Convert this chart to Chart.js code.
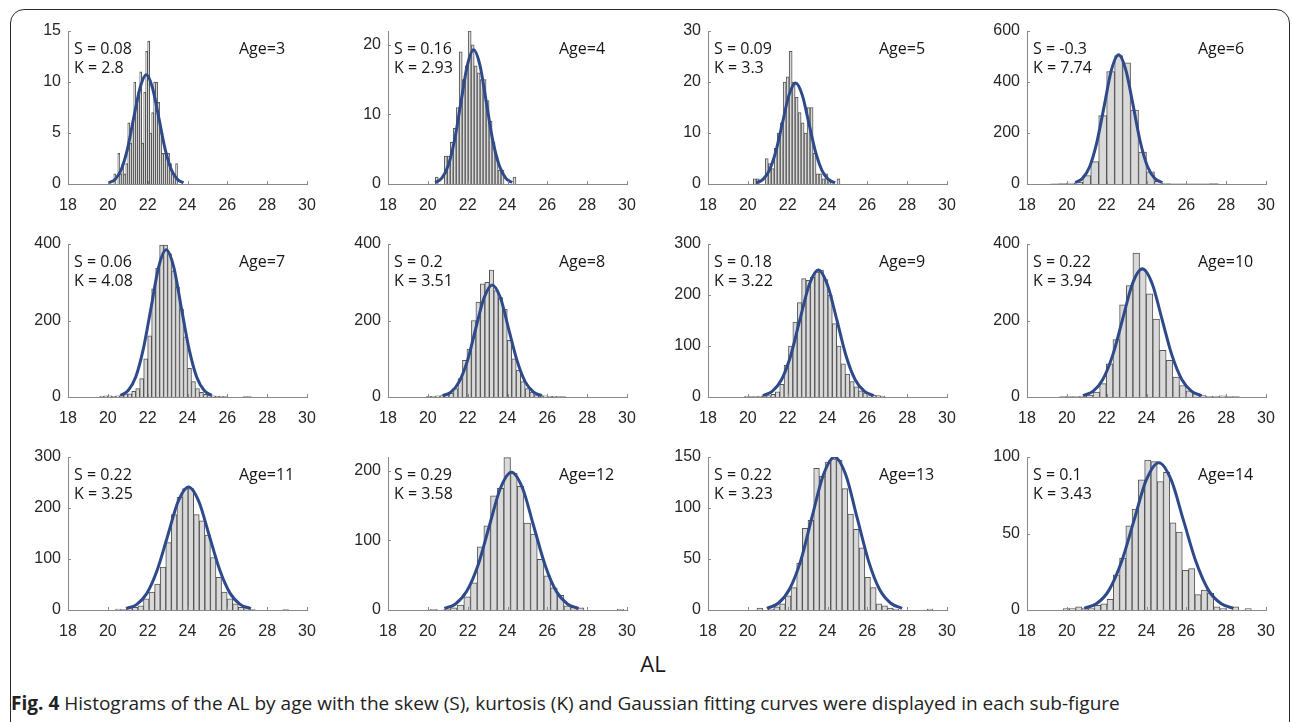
<!DOCTYPE html>
<html>
<head>
<meta charset="utf-8">
<script src="https://cdn.jsdelivr.net/npm/chart.js@4.4.1/dist/chart.umd.min.js"></script>
<style>
  html, body { margin: 0; padding: 0; background: #ffffff; }
  body { width: 1292px; height: 722px; position: relative; overflow: hidden; }
  #frame { position: absolute; left: 10px; top: 9px; width: 1280px; height: 740px;
           border: 1.5px solid #2b2b2b; border-radius: 14px; box-sizing: border-box; }
  canvas { position: absolute; }
  #xlabel { position: absolute; left: 600px; width: 106px; top: 648px; text-align: center;
            font: 22px "Open Sans", sans-serif; color: #1a1a1a; }
  #caption { position: absolute; left: 11px; top: 690px; white-space: nowrap;
             font: 19px "Open Sans", sans-serif; color: #222; letter-spacing: 0.015px; }
  #caption b { font-weight: 700; }
</style>
</head>
<body>
<div id="frame"></div>
<div id="xlabel">AL</div>
<div id="caption"><b>Fig. 4</b> Histograms of the AL by age with the skew (S), kurtosis (K) and Gaussian fitting curves were displayed in each sub-figure</div>
<script>
// ---- labels ----
const ageLabels = ['Age=3', 'Age=4', 'Age=5', 'Age=6', 'Age=7', 'Age=8',
                   'Age=9', 'Age=10', 'Age=11', 'Age=12', 'Age=13', 'Age=14'];
const skewLabels = ['S = 0.08', 'S = 0.16', 'S = 0.09', 'S = -0.3', 'S = 0.06', 'S = 0.2',
                    'S = 0.18', 'S = 0.22', 'S = 0.22', 'S = 0.29', 'S = 0.22', 'S = 0.1'];
const kurtLabels = ['K = 2.8', 'K = 2.93', 'K = 3.3', 'K = 7.74', 'K = 4.08', 'K = 3.51',
                    'K = 3.22', 'K = 3.94', 'K = 3.25', 'K = 3.58', 'K = 3.23', 'K = 3.43'];

// ---- axes ----
const xTicks = [18, 20, 22, 24, 26, 28, 30];
const yMax = [15, 22, 30, 600, 400, 400, 300, 400, 300, 220, 150, 100];
const yTicks = [[0, 5, 10, 15], [0, 10, 20], [0, 10, 20, 30], [0, 200, 400, 600],
                [0, 200, 400], [0, 200, 400], [0, 100, 200, 300], [0, 200, 400],
                [0, 100, 200, 300], [0, 100, 200], [0, 50, 100, 150], [0, 50, 100]];

// ---- histogram bins: centre of first bin and bin width (AL, mm) ----
const binStart = [20.35, 20.45, 20.35, 19.4, 19.7, 20.05, 19.95, 19.81, 20.53, 20.3, 20.6, 19.97];
const binWidth = [0.1, 0.15, 0.15, 0.4, 0.2, 0.225, 0.22, 0.334, 0.28, 0.335, 0.285, 0.315];

// ---- histogram counts per age ----
const age3Counts = [1, 0, 3, 1, 2, 1, 2, 6, 4, 6, 10, 8, 9, 11, 4, 9, 13, 14, 5, 7, 10, 10, 8, 5, 3, 3, 3, 3, 2, 1, 1, 2, 0];
const age4Counts = [1, 0, 0, 4, 4, 6, 8, 11, 19, 15, 17, 22, 20, 17, 16, 15, 15, 12, 9, 6, 4, 2, 2, 0, 0, 0, 1];
const age5Counts = [1, 1, 0, 0, 5, 4, 3, 7, 10, 12, 20, 21, 26, 20, 17, 14, 12, 10, 15, 15, 6, 2, 2, 1, 2, 1, 0, 0, 1];
const age6Counts = [1, 2, 4, 7, 33, 88, 268, 441, 504, 475, 290, 125, 48, 10, 2, 1, 1, 1, 1, 1, 2];
const age7Counts = [2, 3, 3, 2, 3, 5, 8, 8, 15, 22, 48, 100, 160, 283, 337, 397, 397, 374, 330, 287, 230, 157, 75, 40, 22, 12, 7, 5, 3, 2, 2, 1, 0, 0, 0, 0, 1, 1];
const age8Counts = [2, 2, 3, 4, 6, 10, 22, 48, 96, 125, 200, 248, 296, 300, 332, 278, 260, 230, 148, 100, 70, 40, 22, 13, 6, 4, 3, 2, 2, 1, 1];
const age9Counts = [2, 1, 1, 2, 3, 3, 5, 10, 25, 62, 100, 147, 185, 232, 229, 235, 245, 249, 230, 200, 144, 100, 65, 45, 30, 20, 12, 8, 5, 4, 3, 2];
const age10Counts = [1, 1, 1, 2, 5, 13, 35, 87, 150, 241, 291, 376, 333, 270, 204, 122, 96, 52, 30, 16, 9, 4, 2, 1, 3, 1, 1];
const age11Counts = [2, 1, 3, 5, 8, 22, 35, 51, 84, 132, 187, 221, 238, 238, 187, 175, 147, 103, 64, 35, 22, 12, 5, 3, 1, 0, 0, 0, 0, 0, 1];
const age12Counts = [1, 0, 1, 3, 7, 19, 39, 91, 121, 164, 175, 219, 197, 178, 125, 109, 73, 49, 32, 21, 6, 4, 3, 0, 0, 0, 0, 0, 1];
const age13Counts = [2, 0, 1, 3, 6, 14, 22, 46, 80, 88, 139, 131, 145, 148, 147, 119, 94, 79, 61, 32, 22, 6, 4, 2, 1, 0, 0, 0, 0, 0, 1];
const age14Counts = [1, 1, 2, 1, 1, 3, 4, 7, 23, 34, 55, 66, 85, 98, 97, 84, 90, 57, 51, 26, 27, 10, 13, 11, 2, 1, 0, 2, 0, 1];

// ---- fitted Gaussian curves, sampled points (x = AL, y = count) ----
const age3FitX = [20.05, 20.37, 20.68, 20.99, 21.3, 21.62, 21.93, 22.24, 22.56, 22.87, 23.18, 23.49, 23.8];
const age3FitY = [0.12, 0.47, 1.45, 3.47, 6.49, 9.44, 10.7, 9.44, 6.49, 3.47, 1.45, 0.47, 0.12];
const age4FitX = [20.38, 20.7, 21.02, 21.34, 21.66, 21.98, 22.3, 22.62, 22.94, 23.26, 23.59, 23.91, 24.23];
const age4FitY = [0.21, 0.85, 2.61, 6.27, 11.71, 17.03, 19.3, 17.03, 11.71, 6.27, 2.61, 0.85, 0.21];
const age5FitX = [20.42, 20.75, 21.08, 21.41, 21.74, 22.07, 22.4, 22.73, 23.06, 23.39, 23.72, 24.05, 24.38];
const age5FitY = [0.22, 0.87, 2.68, 6.43, 12.01, 17.47, 19.8, 17.47, 12.01, 6.43, 2.68, 0.87, 0.22];
const age6FitX = [20.43, 20.79, 21.15, 21.51, 21.88, 22.24, 22.6, 22.96, 23.33, 23.69, 24.05, 24.41, 24.78];
const age6FitY = [5.6, 22.3, 68.6, 164.6, 307.5, 447.4, 507, 447.4, 307.5, 164.6, 68.6, 22.3, 5.6];
const age7FitX = [20.64, 21.02, 21.4, 21.78, 22.17, 22.55, 22.93, 23.31, 23.69, 24.08, 24.46, 24.84, 25.22];
const age7FitY = [4.3, 16.9, 52.1, 125, 233.5, 339.8, 385, 339.8, 233.5, 125, 52.1, 16.9, 4.3];
const age8FitX = [20.74, 21.16, 21.57, 21.99, 22.4, 22.82, 23.23, 23.65, 24.06, 24.48, 24.89, 25.31, 25.72];
const age8FitY = [3.3, 12.9, 39.6, 95.1, 177.7, 258.6, 293, 258.6, 177.7, 95.1, 39.6, 12.9, 3.3];
const age9FitX = [20.76, 21.22, 21.69, 22.15, 22.61, 23.08, 23.54, 24.0, 24.47, 24.93, 25.39, 25.86, 26.32];
const age9FitY = [2.8, 10.9, 33.7, 80.9, 151, 219.7, 249, 219.7, 151, 80.9, 33.7, 10.9, 2.8];
const age10FitX = [20.81, 21.31, 21.8, 22.3, 22.8, 23.29, 23.79, 24.29, 24.78, 25.28, 25.78, 26.27, 26.77];
const age10FitY = [3.7, 14.7, 45.3, 108.8, 203.2, 295.6, 335, 295.6, 203.2, 108.8, 45.3, 14.7, 3.7];
const age11FitX = [20.92, 21.44, 21.96, 22.48, 23.01, 23.53, 24.05, 24.57, 25.09, 25.62, 26.14, 26.66, 27.18];
const age11FitY = [2.7, 10.6, 32.6, 78.3, 146.2, 212.7, 241, 212.7, 146.2, 78.3, 32.6, 10.6, 2.7];
const age12FitX = [20.83, 21.39, 21.95, 22.52, 23.08, 23.64, 24.2, 24.76, 25.32, 25.89, 26.45, 27.01, 27.57];
const age12FitY = [2.2, 8.7, 26.8, 64.3, 120.1, 174.7, 198, 174.7, 120.1, 64.3, 26.8, 8.7, 2.2];
const age13FitX = [20.96, 21.53, 22.09, 22.66, 23.22, 23.79, 24.35, 24.92, 25.48, 26.05, 26.61, 27.18, 27.74];
const age13FitY = [1.7, 6.6, 20.3, 48.7, 91, 132.4, 150, 132.4, 91, 48.7, 20.3, 6.6, 1.7];
const age14FitX = [20.87, 21.5, 22.12, 22.74, 23.37, 23.99, 24.62, 25.24, 25.86, 26.49, 27.11, 27.74, 28.36];
const age14FitY = [1.1, 4.2, 13, 31.3, 58.4, 85, 96.3, 85, 58.4, 31.3, 13, 4.2, 1.1];

const allCounts = [age3Counts, age4Counts, age5Counts, age6Counts, age7Counts, age8Counts,
                   age9Counts, age10Counts, age11Counts, age12Counts, age13Counts, age14Counts];
const allFitX = [age3FitX, age4FitX, age5FitX, age6FitX, age7FitX, age8FitX,
                 age9FitX, age10FitX, age11FitX, age12FitX, age13FitX, age14FitX];
const allFitY = [age3FitY, age4FitY, age5FitY, age6FitY, age7FitY, age8FitY,
                 age9FitY, age10FitY, age11FitY, age12FitY, age13FitY, age14FitY];

// ---- page layout of the 4 x 3 grid of panels ----
const colLeft = [68, 388, 708, 1027];   // x of each panel's y-axis
const rowTop = [31, 244, 457];          // y of each panel's top
const plotW = 239, plotH = 153;
const padL = 60, padT = 12, padR = 14, padB = 36;

const AXIS_COLOR = '#8a8a8a';
const TICK_FONT = { family: '"Liberation Sans", Arial, sans-serif', size: 16 };
const TEXT_FONT = '16px "Open Sans", sans-serif';

// inward tick marks and the in-panel annotations
const panelDecor = {
  id: 'panelDecor',
  afterDraw(chart, args, opts) {
    const { ctx, chartArea: a, scales } = chart;
    const xs = scales.x, ys = scales.y;
    ctx.save();
    ctx.strokeStyle = AXIS_COLOR;
    ctx.lineWidth = 1;
    ctx.beginPath();
    xs.ticks.forEach(t => {
      const px = Math.round(xs.getPixelForValue(t.value)) + 0.5;
      ctx.moveTo(px, a.bottom);
      ctx.lineTo(px, a.bottom - 3);
    });
    ys.ticks.forEach(t => {
      const py = Math.round(ys.getPixelForValue(t.value)) + 0.5;
      ctx.moveTo(a.left, py);
      ctx.lineTo(a.left + 3, py);
    });
    ctx.stroke();
    ctx.fillStyle = '#161616';
    ctx.font = TEXT_FONT;
    ctx.textAlign = 'left';
    ctx.textBaseline = 'alphabetic';
    ctx.fillText(opts.skew, a.left + 6, a.top + 22.5);
    ctx.fillText(opts.kurt, a.left + 6, a.top + 42);
    ctx.fillText(opts.age, a.left + 171, a.top + 23.2);
    ctx.restore();
  }
};

function makePanel(i) {
  const col = i % 4, row = Math.floor(i / 4);
  const canvas = document.createElement('canvas');
  const w = padL + plotW + padR, h = padT + plotH + padB;
  canvas.width = w; canvas.height = h;
  canvas.style.left = (colLeft[col] - padL) + 'px';
  canvas.style.top = (rowTop[row] - padT) + 'px';
  canvas.style.width = w + 'px';
  canvas.style.height = h + 'px';
  document.body.appendChild(canvas);

  const bars = allCounts[i].map((v, k) => ({ x: binStart[i] + k * binWidth[i], y: v }));
  const fit = allFitX[i].map((x, k) => ({ x: x, y: allFitY[i][k] }));

  new Chart(canvas, {
    type: 'bar',
    data: {
      datasets: [
        {
          type: 'line', data: fit, order: 0,
          borderColor: '#2f4a8a', borderWidth: 3, pointRadius: 0,
          cubicInterpolationMode: 'monotone', fill: false
        },
        {
          type: 'bar', data: bars, order: 1,
          backgroundColor: '#d9d9d9', borderColor: '#555555', borderWidth: 1,
          barPercentage: 1, categoryPercentage: 1
        }
      ]
    },
    options: {
      responsive: false, animation: false, devicePixelRatio: 1,
      layout: { padding: { left: 0, top: padT, right: padR, bottom: 0 } },
      plugins: {
        legend: { display: false }, tooltip: { enabled: false },
        panelDecor: { skew: skewLabels[i], kurt: kurtLabels[i], age: ageLabels[i] }
      },
      scales: {
        x: {
          type: 'linear', min: 18, max: 30, offset: false,
          grid: { display: false, drawTicks: false },
          border: { display: true, color: AXIS_COLOR, width: 1 },
          ticks: { color: '#262626', font: TICK_FONT, padding: 12, maxRotation: 0 },
          afterBuildTicks: s => { s.ticks = xTicks.map(v => ({ value: v })); },
          afterFit: s => { s.height = padB; s.paddingLeft = 0; s.paddingRight = 0; }
        },
        y: {
          type: 'linear', min: 0, max: yMax[i],
          grid: { display: false, drawTicks: false },
          border: { display: true, color: AXIS_COLOR, width: 1 },
          ticks: { color: '#262626', font: TICK_FONT, padding: 7 },
          afterBuildTicks: s => { s.ticks = yTicks[i].map(v => ({ value: v })); },
          afterFit: s => { s.width = padL; s.paddingTop = 0; s.paddingBottom = 0; }
        }
      }
    },
    plugins: [panelDecor]
  });
}

for (let i = 0; i < 12; i++) makePanel(i);
</script>
</body>
</html>
